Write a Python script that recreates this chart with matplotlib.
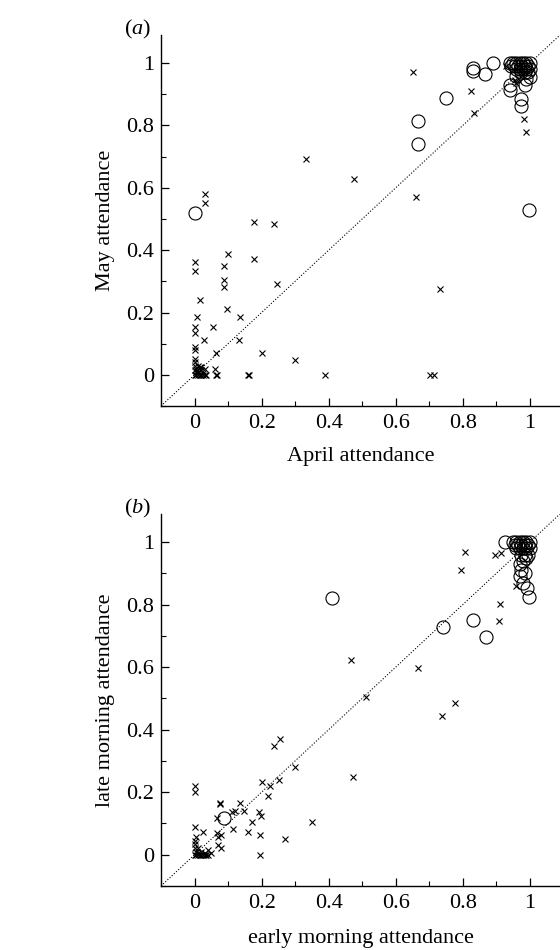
import numpy as np
from matplotlib import pyplot as plt
from matplotlib.ticker import MultipleLocator, FuncFormatter

plt.rcParams['font.family'] = ['Liberation Serif', 'DejaVu Serif']
plt.rcParams['mathtext.fontset'] = 'custom'
plt.rcParams['mathtext.it'] = 'Liberation Serif:italic'
plt.rcParams['mathtext.rm'] = 'Liberation Serif'

# panel (a): April vs May attendance
a_cross_x = [0.03, 0.03, 0.176, 0.237, 0.66, 0.0, 0.0, 0.10, 0.087, 0.176, 0.087, 0.087,
             0.245, 0.733, 0.017, 0.096, 0.007, 0.136, 0.0, 0.055, 0.0, 0.029, 0.133,
             0.065, 0.2, 0.30, 0.0, 0.0, 0.0, 0.0, 0.0, 0.005, 0.06, 0.065, 0.068,
             0.16, 0.163, 0.388, 0.703, 0.714, 0.652, 0.333, 0.475, 0.826, 0.833,
             0.983, 0.988,
             0.0, 0.005, 0.01, 0.015, 0.02, 0.025, 0.03, 0.035, 0.01, 0.02, 0.03,
             0.005, 0.015, 0.025, 0.0, 0.01, 0.02,
             0.955, 0.96, 0.965, 0.93, 0.985]
a_cross_y = [0.58, 0.55, 0.49, 0.483, 0.57, 0.363, 0.334, 0.388, 0.35, 0.373, 0.303, 0.283,
             0.29, 0.275, 0.24, 0.21, 0.186, 0.184, 0.154, 0.154, 0.134, 0.112, 0.112,
             0.07, 0.07, 0.048, 0.09, 0.08, 0.05, 0.04, 0.03, 0.02, 0.02, 0.0, 0.0,
             0.0, 0.0, 0.0, 0.0, 0.0, 0.972, 0.693, 0.629, 0.911, 0.841,
             0.82, 0.78,
             0.0, 0.0, 0.0, 0.0, 0.0, 0.0, 0.0, 0.0, 0.01, 0.015, 0.02,
             0.01, 0.025, 0.005, 0.015, 0.03, 0.025,
             0.945, 0.935, 0.95, 0.99, 0.97]

a_circ_x = [0.0, 0.998, 0.667, 0.667, 0.751, 0.83, 0.83, 0.866, 0.89, 0.94, 0.945,
            0.94, 0.94, 0.975, 0.975, 0.985, 0.99, 1.0, 0.96,
            0.95, 0.96, 0.97, 0.98, 0.99, 1.0, 0.955, 0.965, 0.975, 0.985, 0.995,
            0.96, 0.97, 0.98, 0.99, 1.0, 0.975, 0.985, 0.995]
a_circ_y = [0.52, 0.53, 0.815, 0.742, 0.889, 0.985, 0.975, 0.965, 1.0, 1.0, 0.99,
            0.913, 0.93, 0.886, 0.862, 0.93, 0.95, 0.955, 0.96,
            1.0, 1.0, 1.0, 1.0, 1.0, 1.0, 0.99, 0.99, 0.99, 0.99, 0.99,
            0.98, 0.98, 0.98, 0.98, 0.98, 0.97, 0.97, 0.97]

# panel (b): early vs late morning attendance
b_cross_x = [0.468, 0.667, 0.51, 0.738, 0.778, 0.236, 0.256, 0.299, 0.473, 0.251, 0.201,
             0.224, 0.218, 0.0, 0.0, 0.075, 0.076, 0.135, 0.149, 0.113, 0.191, 0.199,
             0.171, 0.35, 0.066, 0.114, 0.159, 0.194, 0.27, 0.194, 0.067, 0.07, 0.08,
             0.07, 0.08, 0.0, 0.024, 0.005, 0.0, 0.002, 0.04, 0.04, 0.91, 0.907,
             0.808, 0.795, 0.897, 0.915, 0.96, 0.12,
             0.0, 0.005, 0.01, 0.015, 0.02, 0.025, 0.03, 0.035, 0.005, 0.01, 0.02,
             0.03, 0.0, 0.01, 0.05]
b_cross_y = [0.624, 0.597, 0.506, 0.443, 0.485, 0.348, 0.371, 0.282, 0.249, 0.239, 0.232,
             0.22, 0.188, 0.22, 0.2, 0.166, 0.163, 0.166, 0.139, 0.138, 0.138, 0.125,
             0.106, 0.104, 0.116, 0.082, 0.074, 0.063, 0.05, 0.0, 0.07, 0.058, 0.064,
             0.03, 0.022, 0.09, 0.074, 0.058, 0.045, 0.035, 0.015, 0.0, 0.801, 0.749,
             0.969, 0.91, 0.958, 0.965, 0.86, 0.14,
             0.0, 0.0, 0.0, 0.0, 0.0, 0.0, 0.0, 0.0, 0.01, 0.005, 0.01,
             0.005, 0.02, 0.02, 0.005]

b_circ_x = [0.087, 0.409, 0.74, 0.83, 0.87, 0.927, 0.997, 0.992, 0.98, 0.985, 0.97,
            0.97, 0.975, 0.95, 0.96, 0.97, 0.98, 0.99, 1.0, 0.955, 0.965, 0.975,
            0.985, 0.995, 0.96, 0.97, 0.98, 0.99, 1.0, 0.975, 0.985, 0.995, 0.98, 0.99]
b_circ_y = [0.116, 0.82, 0.727, 0.752, 0.697, 1.0, 0.825, 0.853, 0.87, 0.9, 0.89,
            0.93, 0.91, 1.0, 1.0, 1.0, 1.0, 1.0, 1.0, 0.99, 0.99, 0.99,
            0.99, 0.99, 0.98, 0.98, 0.98, 0.98, 0.98, 0.96, 0.96, 0.96, 0.94, 0.95]


def fmt(v, pos):
    return '%g' % round(v, 2)


def panel(ax, cx, cy, ox, oy, xlab, ylab, tag, xpad):
    ax.plot([-0.1, 1.1], [-0.1, 1.1], ls=':', lw=0.8, color='black', zorder=1)
    ax.plot(cx, cy, 'x', color='black', ms=4.8, mew=0.8, zorder=2)
    ax.plot(ox, oy, 'o', mfc='none', mec='black', ms=9.4, mew=0.8, zorder=3)
    ax.set_xlim(-0.1, 1.09)
    ax.set_ylim(-0.1, 1.09)
    ax.spines['top'].set_visible(False)
    ax.spines['right'].set_visible(False)
    for s in ('left', 'bottom'):
        ax.spines[s].set_linewidth(1.0)
    ax.xaxis.set_major_locator(MultipleLocator(0.2))
    ax.yaxis.set_major_locator(MultipleLocator(0.2))
    ax.xaxis.set_minor_locator(MultipleLocator(0.1))
    ax.yaxis.set_minor_locator(MultipleLocator(0.1))
    ax.xaxis.set_major_formatter(FuncFormatter(fmt))
    ax.yaxis.set_major_formatter(FuncFormatter(fmt))
    ax.tick_params(which='major', direction='in', length=6, width=0.9, labelsize=16)
    ax.tick_params(axis='y', which='major', pad=5)
    ax.tick_params(axis='x', which='major', pad=6)
    ax.tick_params(which='minor', direction='in', length=3.5, width=0.8)
    ax.set_xlabel(xlab, fontsize=16, labelpad=xpad)
    ax.set_ylabel(ylab, fontsize=16, labelpad=8)
    ax.text(-0.17, 1.07, tag, fontsize=16, ha='center', va='bottom',
            transform=ax.transData, clip_on=False)


fig = plt.figure(figsize=(5.6, 9.5), dpi=100)
ax1 = fig.add_axes([0.2875, 0.5726, 0.7125, 0.3905])
ax2 = fig.add_axes([0.2875, 0.0674, 0.7125, 0.3916])

panel(ax1, a_cross_x, a_cross_y, a_circ_x, a_circ_y,
      'April attendance', 'May attendance', r'($\mathit{a}$)', 10)
panel(ax2, b_cross_x, b_cross_y, b_circ_x, b_circ_y,
      'early morning attendance', 'late morning attendance', r'($\mathit{b}$)', 11)

fig.savefig('out.png', dpi=100)
